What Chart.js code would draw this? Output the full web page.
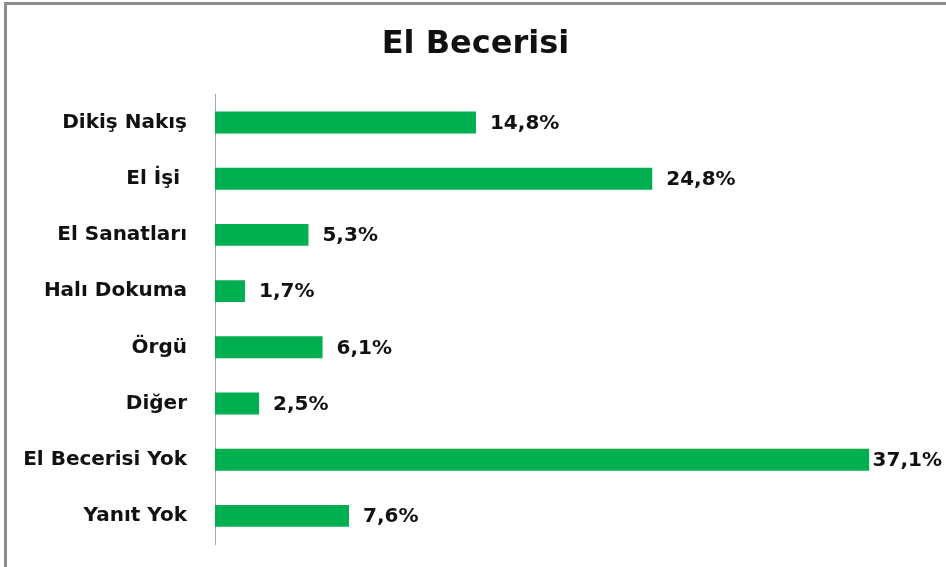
<!DOCTYPE html>
<html>
<head>
<meta charset="utf-8">
<script src="https://cdn.jsdelivr.net/npm/chart.js@4"></script>
<style>
    html, body { margin: 0; padding: 0; background: #fff; }
    #wrap { position: relative; width: 946px; height: 567px; }
    #frame {
        position: absolute; left: 4px; top: 2px; right: -10px; bottom: -10px;
        border-top: 3px solid #8c8c8c; border-left: 3px solid #8c8c8c;
        pointer-events: none;
    }
</style>
</head>
<body>
<div id="wrap">
    <canvas id="chart" width="946" height="567"></canvas>
    <div id="frame"></div>
</div>
<script>
let categories = ["Dikiş Nakış", "El İşi ", "El Sanatları", "Halı Dokuma", "Örgü", "Diğer", "El Becerisi Yok", "Yanıt Yok"];
let values = [14.8, 24.8, 5.3, 1.7, 6.1, 2.5, 37.1, 7.6];

const FONT = "'DejaVu Sans', sans-serif";

function fmt(v) {
    return v.toFixed(1).replace(".", ",") + "%";
}

// value labels at the end of each bar
let barLabels = {
    id: "barLabels",
    afterDatasetsDraw(chart) {
        let ctx = chart.ctx;
        let meta = chart.getDatasetMeta(0);
        ctx.save();
        ctx.font = "bold 20px " + FONT;
        ctx.fillStyle = "#111";
        ctx.textBaseline = "middle";
        ctx.textAlign = "left";
        meta.data.forEach((bar, i) => {
            let text = fmt(values[i]);
            let w = ctx.measureText(text).width;
            let x = bar.x + 14;
            if(x + w > chart.width - 4) x = chart.width - 4 - w;
            ctx.fillText(text, x, bar.y + 1);
        });
        ctx.restore();
    }
};

new Chart("chart", {
    type: "bar",
    data: {
        labels: categories,
        datasets: [
            {
                data: values,
                backgroundColor: "#00B050",
                borderWidth: 0,
                categoryPercentage: 1,
                barPercentage: 0.39
            }
        ]
    },
    options: {
        indexAxis: "y",
        responsive: false,
        animation: false,
        layout: {padding: {left: 5, right: 0, top: 6, bottom: 23}},
        plugins: {
            legend: {display: false},
            tooltip: {enabled: false},
            title: {
                display: true,
                text: "El Becerisi",
                color: "#111",
                font: {family: FONT, size: 32, weight: "bold"},
                padding: {top: 19, bottom: 31}
            }
        },
        scales: {
            x: {
                display: false,
                min: 0,
                max: 41.46
            },
            y: {
                afterFit: s => {
                    s.width = 210;
                    s.paddingTop = 0;
                    s.paddingBottom = 0;
                },
                grid: {display: false, drawTicks: false},
                border: {display: true, color: "#a6a6a6", width: 1},
                ticks: {
                    color: "#111",
                    padding: 28,
                    font: {family: FONT, size: 20, weight: "bold"}
                }
            }
        }
    },
    plugins: [barLabels]
});
</script>
</body>
</html>
